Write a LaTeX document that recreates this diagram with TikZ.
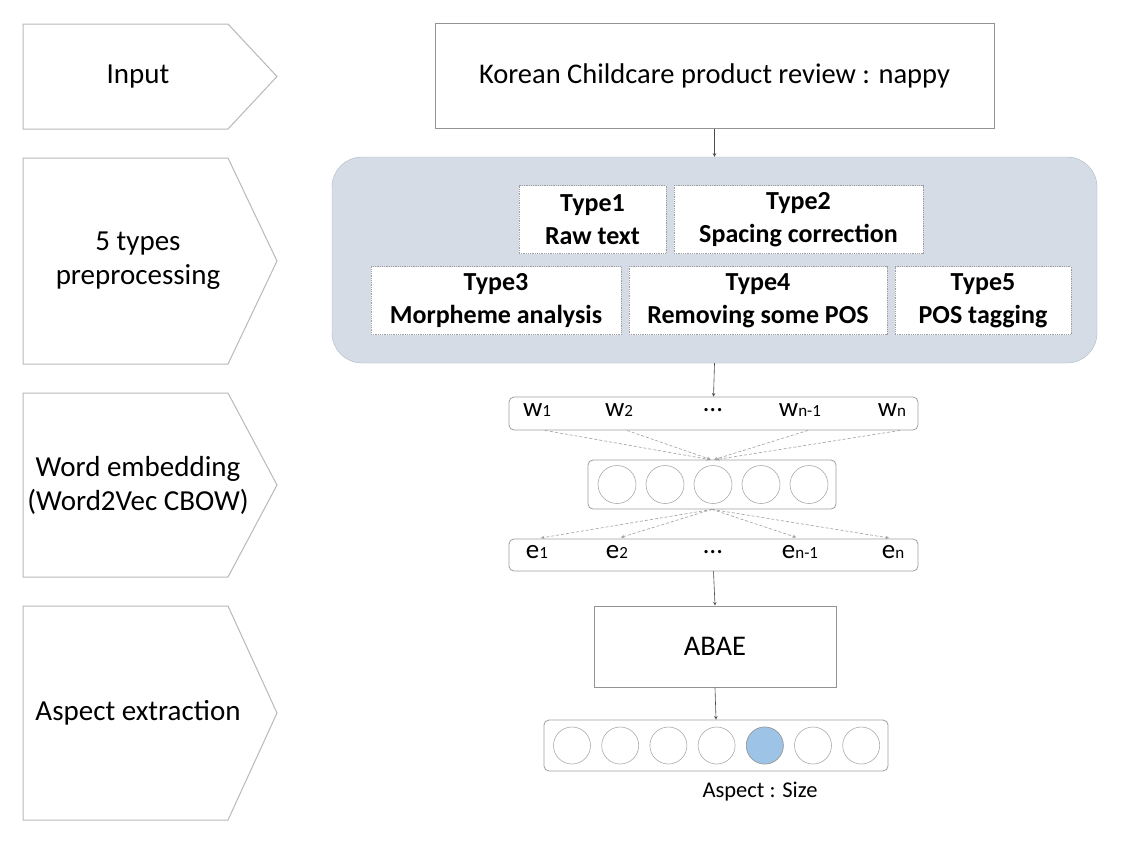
\documentclass[tikz,border=0pt]{standalone}
\usepackage{fontspec}
\setmainfont{Carlito}
\usetikzlibrary{positioning}
\definecolor{panelFill}{HTML}{D6DCE5}
\definecolor{panelLine}{HTML}{ADB9CA}
\definecolor{pickFill}{HTML}{9DC3E6}
\newcommand{\idx}[1]{{\fontsize{17}{17}\selectfont #1}}

\begin{document}
\begin{tikzpicture}
[x=1pt,y=-1pt,
  chevronLine/.style={draw=gray!55,line width=1pt},
  stageLabel/.style={font=\fontsize{29}{34}\selectfont,align=center},
  plainBox/.style={draw=gray!85,line width=1pt,fill=white},
  typeBox/.style={draw=gray!75,densely dotted,line width=0.8pt,fill=white,align=center,
    font=\bfseries\fontsize{26}{33}\selectfont,minimum height=68pt},
  vecBox/.style={draw=gray!75,rounded corners=5pt,line width=0.8pt},
  vecLabel/.style={font=\fontsize{27}{28}\selectfont},
  unitCircle/.style={draw=gray!65,circle,line width=0.6pt,minimum size=38pt,inner sep=0pt},
  darkArrow/.style={->,>=stealth,draw=black!70,line width=0.6pt},
  dashArrow/.style={->,>=stealth,draw=gray!75,densely dashed,line width=0.6pt}]
\path[fill=white,use as bounding box] (0,0) rectangle (1134,844);
%% stages on the left
\foreach \name/\top/\bot/\txt in {input/24/129/Input, prep/158/364/5 types\\preprocessing,
  embed/393/577/Word embedding\\(Word2Vec CBOW), aspect/606/820/Aspect extraction}
{
  \draw[chevronLine] (23,\top) -- (228,\top) -- (277,{(\top+\bot)/2}) -- (228,\bot) -- (23,\bot) -- cycle;
  \node (\name) at (138,{(\top+\bot)/2}) [stageLabel] {\txt};
}
%% input and preprocessing
\node (review) at (714.5,75.5) [plainBox,minimum width=559pt,minimum height=105pt,
  font=\fontsize{28.5}{30}\selectfont] {Korean Childcare product review : nappy};
\node (panel) at (714.5,260) [draw=panelLine,fill=panelFill,rounded corners=30pt,
  minimum width=765pt,minimum height=206pt] {};
\foreach \name/\x/\y/\w/\txt in {type1/592.5/219.5/147/Type1\\Raw text,
  type2/798.5/219.5/249/Type2\\Spacing correction, type3/496/300.5/250/Type3\\Morpheme analysis,
  type4/758/300.5/258/Type4\\Removing some POS, type5/983/300.5/176/Type5\\POS tagging}
{
  \node (\name) at (\x,\y) [typeBox,minimum width=\w pt] {\txt};
}
%% word embedding
\node (wrow) at (713.5,413.5) [vecBox,minimum width=409pt,minimum height=33pt] {};
\node (hid) at (712,484.5) [vecBox,minimum width=248pt,minimum height=49pt] {};
\node (erow) at (713.5,555) [vecBox,minimum width=409pt,minimum height=32pt] {};
\foreach \i/\x in {1/617,2/665,3/713,4/761,5/809}
{
  \node (h\i) at (\x,484.5) [unitCircle] {};
}
\foreach \name/\x/\txt in {w1/537/w\idx{1}, w2/619/w\idx{2}, w3/713/\dots,
  w4/800/w\idx{n-1}, w5/892/w\idx{n}}
{
  \node (\name) at (\x,410) [vecLabel] {\txt};
}
\foreach \name/\x/\txt in {e1/537/e\idx{1}, e2/617/e\idx{2}, e3/713/\dots,
  e4/800/e\idx{n-1}, e5/893/e\idx{n}}
{
  \node (\name) at (\x,552) [vecLabel] {\txt};
}
%% aspect extraction
\node (abae) at (715,646.5) [plainBox,minimum width=242pt,minimum height=81pt,
  font=\fontsize{28.5}{30}\selectfont] {ABAE};
\node (avec) at (716,745.5) [vecBox,minimum width=344pt,minimum height=51pt] {};
\foreach \i in {1,...,7}
{
  \node (a\i) at ({572+(\i-1)*48.2},745.5) [unitCircle,minimum size=37pt] {};
}
\node[unitCircle,minimum size=37pt,fill=pickFill,draw=gray!80] at (a5) {};
\node (asize) at (760,792) [font=\fontsize{22.5}{24}\selectfont] {Aspect : Size};
%% connectors
\draw[darkArrow] (review.south) -- (panel.north);
\draw[darkArrow] (panel.south) -- (wrow.north);
\draw[darkArrow] (erow.south) -- (abae.north);
\draw[darkArrow] (abae.south) -- (avec.north);
\foreach \src/\dx in {w1/-2, w2/-1, w4/2, w5/4}
{
  \draw[dashArrow] ([xshift=8pt]\src.center |- wrow.south) -- ([xshift=\dx pt]hid.north);
}
\foreach \dst in {e1,e2,e4,e5}
{
  \draw[dashArrow,shorten >=4pt] (hid.south) -- (\dst.center |- erow.north);
}
\end{tikzpicture}
\end{document}
